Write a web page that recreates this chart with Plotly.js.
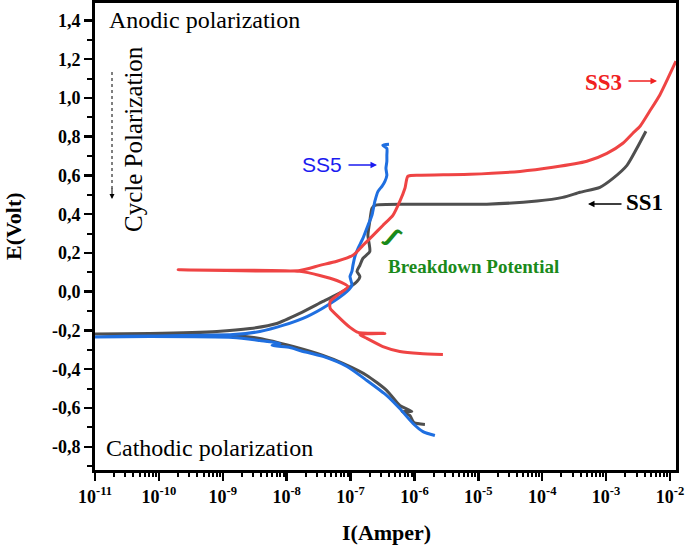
<!DOCTYPE html>
<html>
<head>
<meta charset="utf-8">
<script src="https://cdn.plot.ly/plotly-3.0.1.min.js"></script>
<style>
    html, body { margin: 0; padding: 0; background: #fff; }
    #chart { width: 685px; height: 546px; }
</style>
</head>
<body>
<div id="chart"></div>
<script>
// ============== data ==============
// each sample: cathodic tail -> corrosion potential -> anodic branch
const ss1Current = [1.46e-6, 9.8e-7, 8.5e-7, 6.4e-7, 9.1e-7, 5.9e-7, 3.7e-7, 1.8e-7, 7.6e-8, 3.7e-8, 1.26e-8, 3.8e-9, 1.45e-9, 7.3e-11, 1e-11,
    7.3e-11, 8.1e-10, 2.67e-9, 7.0e-9, 1.6e-8, 3.7e-8, 7.6e-8, 1.26e-7, 1.40e-7, 1.26e-7, 1.40e-7, 1.56e-7, 2.0e-7, 1.87e-7, 2.0e-7, 2.16e-7, 2.4e-7,
    1.22e-6, 1.36e-5, 8.3e-5, 2.1e-4, 3.9e-4, 8.0e-4, 1.28e-3, 2.12e-3, 3.03e-3, 4.2e-3];
const ss1Potential = [-0.685, -0.675, -0.639, -0.618, -0.618, -0.587, -0.510, -0.432, -0.370, -0.329, -0.283, -0.241, -0.226, -0.221, -0.218,
    -0.215, -0.205, -0.190, -0.164, -0.112, -0.050, 0.002, 0.053, 0.079, 0.105, 0.136, 0.172, 0.208, 0.291, 0.363, 0.430, 0.446,
    0.451, 0.452, 0.468, 0.487, 0.513, 0.539, 0.585, 0.652, 0.740, 0.828];

const ss5Current = [2.09e-6, 1.36e-6, 9.5e-7, 5.9e-7, 3.7e-7, 1.8e-7, 8.8e-8, 3.7e-8, 1.6e-8, 1.13e-8, 5.9e-9, 7.9e-9, 3.8e-9, 1.45e-9, 7.3e-11, 1e-11,
    7.3e-11, 1.45e-9, 3.8e-9, 8.7e-9, 2.08e-8, 4.3e-8, 8.8e-8, 1.05e-7, 9.8e-8, 1.05e-7, 1.09e-7, 1.17e-7, 1.31e-7, 1.56e-7, 1.87e-7, 2.16e-7,
    2.4e-7, 2.69e-7, 3.1e-7, 3.45e-7, 3.7e-7, 3.58e-7, 3.7e-7, 3.7e-7, 3.7e-7, 3.2e-7, 4.0e-7];
const ss5Potential = [-0.742, -0.722, -0.680, -0.603, -0.536, -0.458, -0.386, -0.334, -0.303, -0.288, -0.277, -0.267, -0.252, -0.236, -0.231, -0.233,
    -0.228, -0.221, -0.205, -0.174, -0.128, -0.071, 0.002, 0.033, 0.079, 0.105, 0.136, 0.182, 0.224, 0.275, 0.342, 0.394,
    0.466, 0.518, 0.544, 0.570, 0.601, 0.637, 0.673, 0.704, 0.740, 0.756, 0.761];

const ss3Current = [2.79e-6, 1.22e-6, 5.9e-7, 3.2e-7, 1.8e-7, 1.40e-7, 3.45e-7, 1.31e-7, 9.8e-8, 6.1e-8, 4.8e-8, 4.8e-8, 6.8e-8, 9.1e-8, 6.1e-8, 3.3e-8,
    1.6e-8, 2.0e-10, 1.6e-8, 3.3e-8, 6.1e-8, 1.09e-7, 1.56e-7, 2.25e-7, 3.2e-7, 4.6e-7, 5.9e-7, 7.1e-7, 7.9e-7, 1.22e-6,
    7.4e-6, 4.5e-5, 1.47e-4, 5.0e-4, 1.03e-3, 1.83e-3, 2.62e-3, 3.4e-3, 4.8e-3, 6.9e-3, 9.3e-3, 1.24e-2];
const ss3Potential = [-0.324, -0.319, -0.308, -0.283, -0.241, -0.221, -0.215, -0.210, -0.184, -0.122, -0.086, -0.050, -0.009, 0.027, 0.058, 0.084,
    0.105, 0.113, 0.110, 0.136, 0.157, 0.188, 0.239, 0.291, 0.342, 0.394, 0.466, 0.534, 0.596, 0.601,
    0.606, 0.621, 0.642, 0.673, 0.714, 0.766, 0.818, 0.854, 0.931, 1.014, 1.102, 1.190];

// axis ticks
const xTickVals = [1e-11, 1e-10, 1e-9, 1e-8, 1e-7, 1e-6, 1e-5, 1e-4, 1e-3, 1e-2];
const xTickText = ['10<sup>-11</sup>', '10<sup>-10</sup>', '10<sup>-9</sup>', '10<sup>-8</sup>', '10<sup>-7</sup>',
    '10<sup>-6</sup>', '10<sup>-5</sup>', '10<sup>-4</sup>', '10<sup>-3</sup>', '10<sup>-2</sup>'];
const yTickVals = [-0.8, -0.6, -0.4, -0.2, 0, 0.2, 0.4, 0.6, 0.8, 1.0, 1.2, 1.4];
const yTickText = ['-0,8', '-0,6', '-0,4', '-0,2', '0,0', '0,2', '0,4', '0,6', '0,8', '1,0', '1,2', '1,4'];

// ============== plot ==============
const SERIF = 'Liberation Serif, Times New Roman, serif';

const xMinor = [];
for (let d = -11; d <= -3; d++) {
    for (let k = 2; k <= 9; k++) xMinor.push(k * Math.pow(10, d));
}
const yMinor = [];
for (let v = -0.9; v < 1.45; v += 0.2) yMinor.push(Math.round(v * 10) / 10);

const curve = (x, y, color) => ({
    x: x,
    y: y,
    type: 'scatter',
    mode: 'lines',
    line: { color: color, width: 3, shape: 'spline', smoothing: 0.6 },
    showlegend: false,
    hoverinfo: 'skip'
});

const traces = [
    curve(ss1Current, ss1Potential, '#4f4f4f'),
    curve(ss5Current, ss5Potential, '#1f6fe0'),
    curve(ss3Current, ss3Potential, '#ef4444')
];

// pixel helpers for the annotation layer (plot area 95..676 x 3..470)
const px = v => (v - 95) / 581;
const py = v => (470 - v) / 467;

const label = (text, x, y, font, extra) => Object.assign({
    text: text, xref: 'paper', yref: 'paper', x: px(x), y: py(y),
    xanchor: 'center', yanchor: 'middle', showarrow: false, font: font
}, extra || {});

const arrow = (x, y, ax, color) => ({
    text: '', xref: 'paper', yref: 'paper', x: px(x), y: py(y),
    ax: ax, ay: 0, showarrow: true, arrowhead: 2, arrowsize: 1,
    arrowwidth: 1.3, arrowcolor: color
});

const layout = {
    width: 685,
    height: 546,
    margin: { l: 95, r: 9, t: 3, b: 76 },
    paper_bgcolor: '#fff',
    plot_bgcolor: '#fff',
    xaxis: {
        type: 'log',
        range: [-11, -1.906],
        showline: true, linecolor: '#000', linewidth: 3, mirror: true,
        showgrid: false, zeroline: false,
        tickmode: 'array', tickvals: xTickVals, ticktext: xTickText,
        ticks: 'outside', ticklen: 8, tickwidth: 2.5, tickcolor: '#000',
        ticklabeloverflow: 'allow',
        tickfont: { family: SERIF, size: 18, color: '#000', weight: 'bold' },
        minor: { tickmode: 'array', tickvals: xMinor, ticks: 'outside', ticklen: 4, tickwidth: 2, tickcolor: '#000', showgrid: false }
    },
    yaxis: {
        range: [-0.92, 1.49],
        showline: true, linecolor: '#000', linewidth: 3, mirror: true,
        showgrid: false, zeroline: false,
        tickmode: 'array', tickvals: yTickVals, ticktext: yTickText,
        ticks: 'outside', ticklen: 8, tickwidth: 2.5, tickcolor: '#000',
        tickfont: { family: SERIF, size: 18, color: '#000', weight: 'bold' },
        minor: { tickmode: 'array', tickvals: yMinor, ticks: 'outside', ticklen: 5, tickwidth: 2, tickcolor: '#000', showgrid: false }
    },
    shapes: [{
        type: 'line', xref: 'paper', yref: 'paper',
        x0: px(112), x1: px(112), y0: py(72), y1: py(192),
        line: { color: '#000', width: 1, dash: 'dot' }
    }],
    annotations: [
        label('E(Volt)', 13, 226, { family: SERIF, size: 22, color: '#000', weight: 'bold' }, { textangle: -90 }),
        label('I(Amper)', 386, 532, { family: SERIF, size: 22, color: '#000', weight: 'bold' }),
        label('Anodic polarization', 204, 20, { family: SERIF, size: 24, color: '#000' }),
        label('Cathodic polarization', 209, 448, { family: SERIF, size: 24, color: '#000' }),
        label('Cycle Polarization', 133, 139, { family: SERIF, size: 25, color: '#000' }, { textangle: -90 }),
        label('SS5', 322, 165, { family: 'Liberation Sans, Arial, sans-serif', size: 21, color: '#1b1bf0' }),
        label('SS3', 603, 83, { family: SERIF, size: 23, color: '#f02020', weight: 'bold' }),
        label('SS1', 644, 202, { family: SERIF, size: 23, color: '#000', weight: 'bold' }),
        label('Breakdown Potential', 473, 266, { family: SERIF, size: 19, color: '#1a8a1a', weight: 'bold' }),
        label('ʃ', 393, 236, { family: 'DejaVu Sans, sans-serif', size: 22, color: '#1a8a1a', weight: 'bold' }, { textangle: 40 }),
        arrow(377, 165, -30, '#1b1bf0'),
        arrow(657, 81, -30, '#f02020'),
        arrow(588, 204, 35, '#000'),
        arrow(112, 199, 0, '#000')
    ]
};
// short head for the dotted cycle arrow
layout.annotations[layout.annotations.length - 1].ay = -12;
layout.annotations[layout.annotations.length - 1].arrowwidth = 1;

Plotly.newPlot('chart', traces, layout, { displayModeBar: false, staticPlot: true });
</script>
</body>
</html>
